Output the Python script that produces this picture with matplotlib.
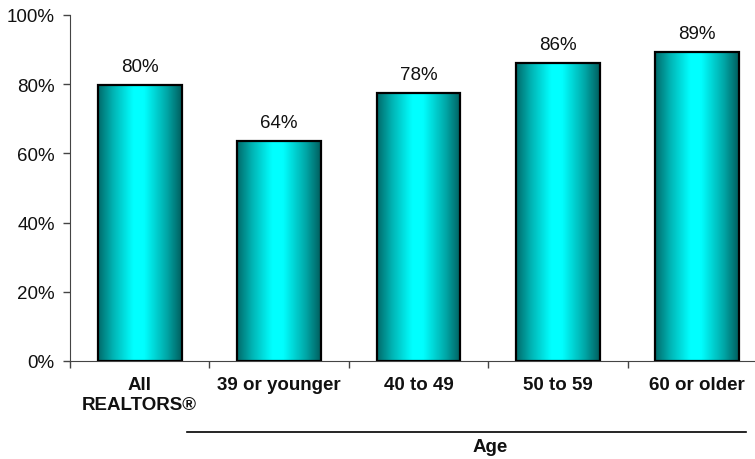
import matplotlib
matplotlib.use("Agg")
import matplotlib.pyplot as plt
import numpy as np
from matplotlib.colors import LinearSegmentedColormap

plt.rcParams['font.family'] = ['Liberation Sans', 'DejaVu Sans']

categories = ["All\nREALTORS®", "39 or younger", "40 to 49", "50 to 59", "60 or older"]
values = [79.8, 63.6, 77.5, 86.1, 89.3]
labels = ["80%", "64%", "78%", "86%", "89%"]
yticks = [0, 20, 40, 60, 80, 100]
ytick_labels = ["0%", "20%", "40%", "60%", "80%", "100%"]
group_label = "Age"

W, H = 755, 460
fig = plt.figure(figsize=(W / 100, H / 100), dpi=100)
left_px, right_px, bot_px, top_px = 70, 767, 362, 16
ax = fig.add_axes([left_px / W, 1 - bot_px / H, (right_px - left_px) / W, (bot_px - top_px) / H])

n = len(categories)
x = np.arange(n)
ax.set_xlim(-0.5, n - 0.5)
ax.set_ylim(0, 100)

cmap = LinearSegmentedColormap.from_list(
    "tealgrad",
    [(0.0, "#006a6a"), (0.18, "#00b4b4"), (0.42, "#00ffff"), (0.55, "#00ffff"),
     (0.82, "#00a8a8"), (1.0, "#005e5e")])
grad = np.linspace(0, 1, 256).reshape(1, -1)

bw = 0.6
bars = ax.bar(x, values, width=bw, facecolor="none", edgecolor="black", linewidth=1.6, zorder=3)
for b in bars:
    x0, y0 = b.get_x(), b.get_y()
    im = ax.imshow(grad, cmap=cmap, aspect="auto",
                   extent=[x0, x0 + b.get_width(), y0, y0 + b.get_height()],
                   zorder=2, interpolation="bilinear")
    im.set_clip_path(b)

for xi, v, lab in zip(x, values, labels):
    ax.text(xi, v + 4.0, lab, ha="center", va="baseline", fontsize=13.5, color="#111111")

ax.set_yticks(yticks)
ax.set_yticklabels(ytick_labels, fontsize=13.5, color="#111111")
ax.set_xticks(np.arange(n + 1) - 0.5, minor=False)
ax.set_xticklabels([])
ax.tick_params(axis="y", direction="out", length=5, width=1, color="#444444", pad=6)
ax.tick_params(axis="x", direction="out", length=5, width=1, color="#444444")
for xi, c in zip(x, categories):
    ax.text(xi, -4.4, c, ha="center", va="top", fontsize=13.5, fontweight="bold",
            linespacing=1.18, color="#111111")

for s in ["top", "right"]:
    ax.spines[s].set_visible(False)
ax.spines["left"].set_color("#444444")
ax.spines["bottom"].set_color("#444444")

# group line and label
fig.add_artist(plt.Line2D([187 / W, 746 / W], [1 - 433 / H, 1 - 433 / H], color="black", linewidth=1.2))
fig.text(490 / W, 1 - 448 / H, group_label, ha="center", va="center", fontsize=13.5,
         fontweight="bold", color="#111111")

fig.savefig("out.png", dpi=100)
